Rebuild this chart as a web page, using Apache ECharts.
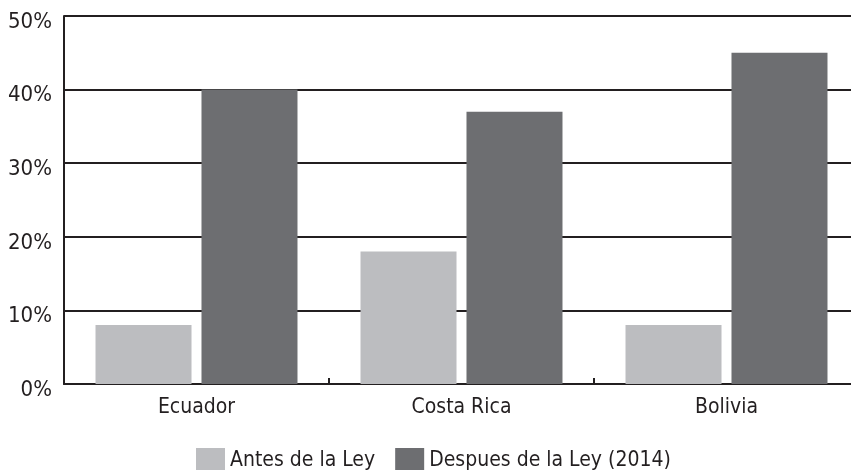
<!DOCTYPE html>
<html><head><meta charset="utf-8">
<script src="https://cdn.jsdelivr.net/npm/echarts@6/dist/echarts.min.js"></script>
<style>html,body{margin:0;padding:0;background:#fff}#c{width:851px;height:470px}</style>
</head><body><div id="c"></div>
<script>
const categories = ['Ecuador', 'Costa Rica', 'Bolivia'];
const antes = [8, 18, 8];
const despues = [40, 37, 45];
const seriesNames = ['Antes de la Ley', 'Despues de la Ley (2014)'];
const FONT = '"DejaVu Sans Condensed", "Liberation Sans Narrow", sans-serif';
const chart = echarts.init(document.getElementById('c'));
chart.setOption({
  animation: false,
  grid: { left: 64, width: 795, top: 16, height: 368, containLabel: false, outerBoundsMode: 'none' },
  legend: {
    top: 446, left: 194, itemWidth: 29, itemHeight: 25, itemGap: 20,
    icon: 'rect', padding: 2,
    textStyle: { fontFamily: FONT, fontSize: 21, color: '#231f20' },
    data: seriesNames
  },
  xAxis: {
    type: 'category', data: categories,
    axisLine: { lineStyle: { color: '#231f20', width: 2 } },
    axisTick: { show: true, length: 6, inside: true, lineStyle: { color: '#231f20', width: 2 } },
    axisLabel: { fontFamily: FONT, fontSize: 21, color: '#231f20', margin: 13 }
  },
  yAxis: {
    type: 'value', min: 0, max: 50, interval: 10,
    axisLine: { show: true, lineStyle: { color: '#231f20', width: 2 } },
    axisTick: { show: false },
    axisLabel: {
      formatter: function (v) { return '{s|}\n{v|' + v + '%}'; },
      margin: 12,
      rich: {
        s: { height: 12, lineHeight: 12 },
        v: { fontFamily: FONT, fontSize: 22, color: '#231f20', lineHeight: 24, align: 'right' }
      }
    },
    splitLine: { lineStyle: { color: '#231f20', width: 2 } }
  },
  series: [
    { name: seriesNames[0], type: 'bar', data: antes, barWidth: 96, barGap: '10.4%', itemStyle: { color: '#bcbdc0' } },
    { name: seriesNames[1], type: 'bar', data: despues, barWidth: 96, itemStyle: { color: '#6d6e71' } }
  ]
});
</script></body></html>
